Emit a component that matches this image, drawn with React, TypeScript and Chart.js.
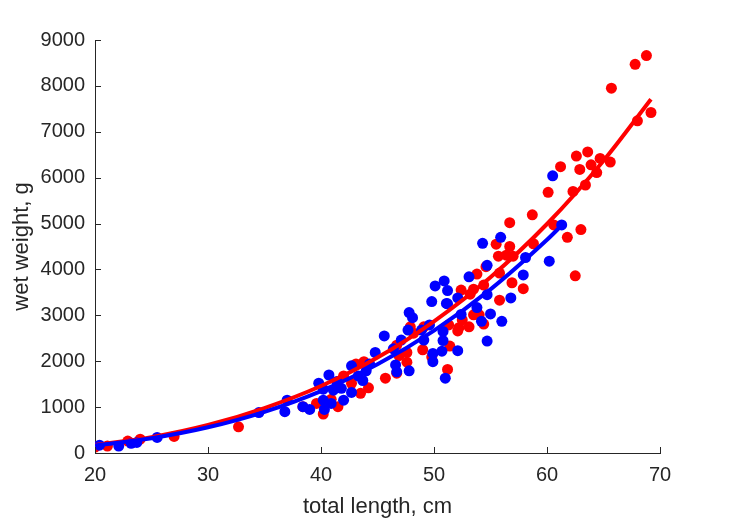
import React, { useEffect, useRef } from "react";
import { Chart, registerables } from "chart.js";

Chart.register(...registerables);

// Red sample: total length (cm), wet weight (g)
const redLength = [20.0, 21.1, 22.9, 24.0, 27.0, 32.7, 38.4, 39.6, 40.2, 40.9, 41.5, 42.0, 42.7, 43.1, 43.5, 43.8, 44.2, 45.7, 46.7, 46.7, 46.9, 47.6, 47.6, 47.9, 48.2, 49.0, 49.1, 49.8, 51.2, 51.3, 51.4, 52.1, 52.2, 52.4, 52.5, 53.1, 53.2, 53.5, 53.5, 53.8, 54.0, 54.4, 54.4, 54.6, 55.5, 55.7, 55.8, 55.8, 56.4, 56.7, 56.7, 56.9, 57.0, 57.9, 58.7, 58.8, 60.1, 60.6, 61.2, 61.8, 62.3, 62.5, 62.6, 62.9, 63.0, 63.4, 63.6, 63.9, 64.4, 64.7, 65.6, 65.7, 67.8, 68.0, 68.8, 69.2];
const redWeight = [130, 150, 260, 300, 360, 570, 1010, 1080, 850, 1170, 1010, 1680, 1520, 1940, 1300, 1990, 1420, 1630, 1740, 2350, 2120, 1980, 2190, 2750, 2610, 2250, 2750, 2090, 1820, 2790, 2330, 2660, 2730, 3550, 2900, 2750, 3460, 3570, 3010, 3900, 3010, 2810, 3660, 4060, 4550, 4290, 3920, 3330, 4310, 5020, 4500, 3710, 4290, 3580, 5190, 4560, 5680, 4970, 6240, 4700, 5700, 3860, 6470, 6180, 4870, 5840, 6560, 6280, 6110, 6420, 6340, 7950, 8470, 7240, 8660, 7420];

// Blue sample
const blueLength = [20.4, 22.1, 23.2, 23.7, 25.5, 34.5, 36.8, 37.0, 38.4, 39.0, 39.8, 40.2, 40.2, 40.3, 40.7, 40.9, 41.1, 41.4, 41.8, 42.0, 42.7, 42.7, 43.3, 43.7, 44.0, 44.3, 44.8, 45.6, 46.4, 46.6, 46.7, 47.1, 47.7, 47.8, 47.8, 48.1, 48.9, 49.1, 49.6, 49.8, 49.9, 49.9, 50.1, 50.7, 50.8, 50.8, 50.9, 51.0, 51.1, 51.2, 51.2, 52.1, 52.1, 52.4, 53.1, 53.8, 54.2, 54.3, 54.7, 54.7, 54.7, 55.0, 55.9, 56.0, 56.8, 57.9, 58.1, 60.2, 60.5, 61.3];
const blueWeight = [170, 150, 210, 230, 340, 880, 900, 1150, 1010, 950, 1520, 1390, 1150, 950, 1700, 1080, 1370, 1560, 1410, 1150, 1320, 1900, 1680, 1580, 1790, 1940, 2190, 2550, 2270, 1920, 1770, 2460, 2680, 3060, 1790, 2950, 2680, 2460, 2790, 3300, 2170, 1990, 3640, 2220, 2650, 2450, 3750, 1630, 3260, 3540, 3250, 3380, 2230, 3020, 3840, 3170, 2870, 4570, 4090, 3450, 2440, 3030, 4700, 2870, 3380, 3880, 4260, 4180, 6040, 4970];

// Fitted length-weight curves
const redFitLength = [20, 25, 30, 35, 40, 45, 50, 55, 60, 65, 69.2];
const redFitWeight = [175, 346, 610, 980, 1460, 2080, 2870, 3830, 4990, 6370, 7710];
const blueFitLength = [20, 25, 30, 35, 40, 45, 50, 55, 60, 61.3];
const blueFitWeight = [163, 322, 560, 898, 1350, 1933, 2667, 3566, 4646, 4960];

const xTicks = [20, 30, 40, 50, 60, 70];
const yTicks = [0, 1000, 2000, 3000, 4000, 5000, 6000, 7000, 8000, 9000];

const RED = "#ff0000";
const BLUE = "#0000ff";
const AXIS = "#262626";
const FONT = "'Liberation Sans', Arial, sans-serif";

const zip = (xs: number[], ys: number[]) => xs.map((x, i) => ({ x, y: ys[i] }));

const inwardTicks = {
  id: "inwardTicks",
  afterDraw(chart: any) {
    const { ctx, scales } = chart;
    const xs = scales.x;
    const ys = scales.y;
    const len = 6;
    ctx.save();
    ctx.strokeStyle = AXIS;
    ctx.lineWidth = 1;
    ctx.beginPath();
    for (const v of xTicks) {
      const px = Math.round(xs.getPixelForValue(v)) + 0.5;
      ctx.moveTo(px, ys.bottom);
      ctx.lineTo(px, ys.bottom - len);
    }
    for (const v of yTicks) {
      const py = Math.round(ys.getPixelForValue(v)) + 0.5;
      ctx.moveTo(xs.left, py);
      ctx.lineTo(xs.left + len, py);
    }
    ctx.stroke();
    ctx.restore();
  },
};

export default function App() {
  const ref = useRef<HTMLCanvasElement | null>(null);

  useEffect(() => {
    if (!ref.current) return;
    const chart = new Chart(ref.current, {
      type: "scatter",
      data: {
        datasets: [
          {
            type: "line",
            label: "blue fit",
            data: zip(blueFitLength, blueFitWeight),
            borderColor: BLUE,
            borderWidth: 4,
            pointRadius: 0,
            cubicInterpolationMode: "monotone",
            fill: false,
            order: 0,
          } as any,
          {
            type: "line",
            label: "red fit",
            data: zip(redFitLength, redFitWeight),
            borderColor: RED,
            borderWidth: 4,
            pointRadius: 0,
            cubicInterpolationMode: "monotone",
            fill: false,
            order: 1,
          } as any,
          {
            label: "blue",
            data: zip(blueLength, blueWeight),
            backgroundColor: BLUE,
            pointBackgroundColor: BLUE,
            pointBorderWidth: 0,
            pointRadius: 5.5,
            order: 2,
          },
          {
            label: "red",
            data: zip(redLength, redWeight),
            backgroundColor: RED,
            pointBackgroundColor: RED,
            pointBorderWidth: 0,
            pointRadius: 5.5,
            order: 3,
          },
        ],
      },
      options: {
        animation: false,
        responsive: false,
        maintainAspectRatio: false,
        layout: { padding: { left: 0, top: 40, right: 69, bottom: 0 } },
        plugins: { legend: { display: false }, tooltip: { enabled: false } },
        scales: {
          x: {
            type: "linear",
            min: 20,
            max: 70,
            afterFit: (s: any) => {
              s.height = 68;
            },
            afterBuildTicks: (s: any) => {
              s.ticks = xTicks.map((v) => ({ value: v }));
            },
            grid: { display: true, color: "rgba(0,0,0,0)", drawTicks: false },
            border: { display: true, color: AXIS, width: 1 },
            ticks: {
              padding: 10,
              color: AXIS,
              font: { family: FONT, size: 20 },
              callback: (v: any) => String(v),
            },
            title: {
              display: true,
              text: "total length, cm",
              color: AXIS,
              font: { family: FONT, size: 22 },
              padding: { top: 0, bottom: 1 },
            },
          },
          y: {
            type: "linear",
            min: 0,
            max: 9000,
            afterFit: (s: any) => {
              s.width = 95;
            },
            afterBuildTicks: (s: any) => {
              s.ticks = yTicks.map((v) => ({ value: v }));
            },
            grid: { display: true, color: "rgba(0,0,0,0)", drawTicks: false },
            border: { display: true, color: AXIS, width: 1 },
            ticks: {
              padding: 10,
              color: AXIS,
              font: { family: FONT, size: 20 },
              callback: (v: any) => String(v),
            },
            title: {
              display: true,
              text: "wet weight, g",
              color: AXIS,
              font: { family: FONT, size: 22 },
              padding: { top: 9, bottom: 0 },
            },
          },
        },
      },
      plugins: [inwardTicks],
    });
    return () => chart.destroy();
  }, []);

  return (
    <div style={{ position: "fixed", left: 0, top: 0, width: 729, height: 521, background: "#fff" }}>
      <canvas ref={ref} width={729} height={521} style={{ width: 729, height: 521, display: "block" }} />
    </div>
  );
}
